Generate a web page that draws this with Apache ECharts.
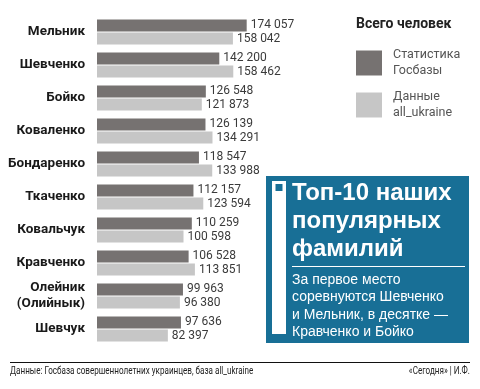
<!DOCTYPE html>
<html><head><meta charset="utf-8">
<script src="https://cdn.jsdelivr.net/npm/echarts@6/dist/echarts.min.js"></script>
<style>html,body{margin:0;padding:0;background:#fff}#c{width:480px;height:389px}</style>
</head><body><div id="c"></div>
<script>
const categories = ['Мельник','Шевченко','Бойко','Коваленко','Бондаренко','Ткаченко','Ковальчук','Кравченко','Олейник\n(Олийнык)','Шевчук'];
const gosbaza = [174057,142200,126548,126139,118547,112157,110259,106528,99963,97636];
const allUkraine = [158042,158462,121873,134291,133988,123594,100598,113851,96380,82397];
const seriesNames = ['Статистика\nГосбазы','Данные\nall_ukraine'];
const legendTitle = 'Всего человек';
const boxTitle = 'Топ-10 наших\nпопулярных\nфамилий';
const boxText = 'За первое место\nсоревнуются Шевченко\nи Мельник, в десятке —\nКравченко и Бойко';
const sourceText = 'Данные: Госбаза совершеннолетних украинцев, база all_ukraine';
const creditText = '«Сегодня» | И.Ф.';

const fmt = v => String(v).replace(/\B(?=(\d{3})+(?!\d))/g, ' ');
const DARK = '#767271', LIGHT = '#c6c6c6', BLUE = '#186f96';

const chart = echarts.init(document.getElementById('c'), null, {renderer:'canvas'});
const labelCfg = {show:true, position:'right', distance:4, formatter:p=>fmt(p.value),
  fontFamily:'Roboto', fontSize:12, color:'#3a3a3a'};
chart.setOption({
  animation:false,
  title:{text:legendTitle, left:356, top:17, padding:0, textStyle:{fontFamily:'Roboto', fontWeight:'bold', fontSize:14, color:'#222'}},
  legend:{orient:'vertical', left:356, top:47, padding:0, itemWidth:26, itemHeight:25, itemGap:10, icon:'rect',
    textStyle:{fontFamily:'Roboto', fontSize:12.5, lineHeight:16, color:'#555', padding:[0,0,0,6]},
    data:seriesNames},
  grid:{left:97, top:15.5, bottom:43.5, width:172, containLabel:false, outerBoundsMode:'none'},
  xAxis:{type:'value', min:0, max:200000, show:false},
  yAxis:{type:'category', inverse:true, data:categories,
    axisLine:{show:false}, axisTick:{show:false},
    axisLabel:{margin:12, fontFamily:'Roboto', fontWeight:'bold', fontSize:13.5, lineHeight:16, color:'#1a1a1a', align:'right'}},
  series:[
    {name:seriesNames[0], type:'bar', data:gosbaza, barWidth:12, barGap:'10%', itemStyle:{color:DARK}, label:labelCfg},
    {name:seriesNames[1], type:'bar', data:allUkraine, barWidth:12, itemStyle:{color:LIGHT}, label:labelCfg}
  ],
  graphic:[
    {type:'rect', shape:{x:266, y:176, width:203, height:167}, style:{fill:BLUE}},
    {type:'rect', shape:{x:272, y:181, width:14, height:153}, style:{fill:'#fff'}},
    {type:'rect', shape:{x:275.5, y:184, width:7, height:7}, style:{fill:BLUE}},
    {type:'text', x:292, y:179, style:{text:boxTitle, fill:'#fff', font:"bold 24px 'Liberation Sans'", lineHeight:28}},
    {type:'line', shape:{x1:292, y1:266.5, x2:465, y2:266.5}, style:{stroke:'#fff', lineWidth:1}},
    {type:'text', x:292, y:271, style:{text:boxText, fill:'#fff', font:"14px 'Liberation Sans'", lineHeight:17.5}},
    {type:'line', shape:{x1:10, y1:362.5, x2:470, y2:362.5}, style:{stroke:'#111', lineWidth:1.2}},
    {type:'text', x:10, y:366, scaleX:0.81, style:{text:sourceText, fill:'#222', font:"10px 'Roboto'"}},
    {type:'text', x:470, y:366, scaleX:0.81, style:{text:creditText, fill:'#222', font:"10px 'Roboto'", textAlign:'right'}}
  ]
});
</script></body></html>
